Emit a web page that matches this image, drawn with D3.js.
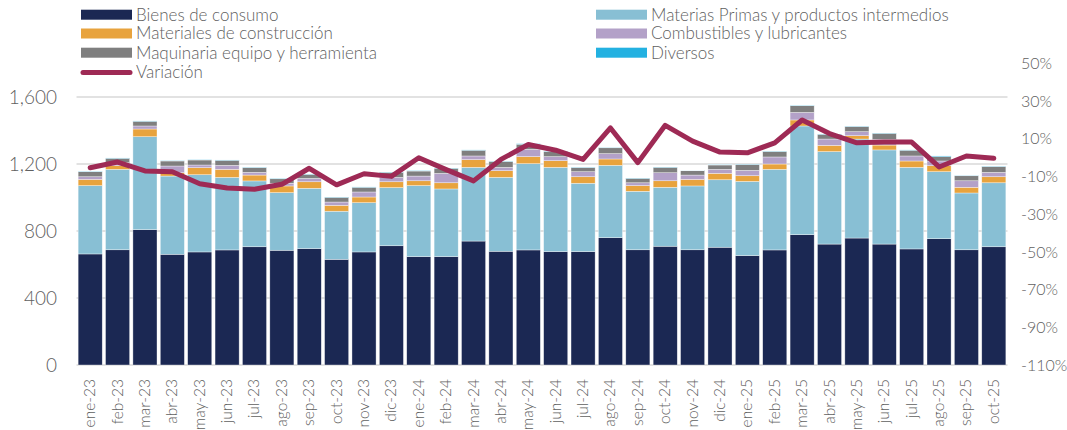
<!DOCTYPE html>
<html lang="es">
<head>
    <meta charset="UTF-8">
    <title>Importaciones por tipo de bien</title>
    <script src="https://d3js.org/d3.v7.min.js"></script>
    <style>
        body { margin: 0; background: #fff; font-family: Lato, "Open Sans", sans-serif; }
        text { fill: #5f5f5f; font-weight: 300; }
    </style>
</head>
<body>
<div id="chart"></div>
<script>
    // Months
    const months = ["ene-23","feb-23","mar-23","abr-23","may-23","jun-23","jul-23","ago-23","sep-23","oct-23","nov-23","dic-23",
        "ene-24","feb-24","mar-24","abr-24","may-24","jun-24","jul-24","ago-24","sep-24","oct-24","nov-24","dic-24",
        "ene-25","feb-25","mar-25","abr-25","may-25","jun-25","jul-25","ago-25","sep-25","oct-25"];

    // Series values
    const bienes = [663,688,808,661,675,687,706,685,695,631,675,712,647,647,740,679,687,677,677,760,688,709,688,703,653,687,778,722,758,722,693,754,688,706];
    const materias = [408,480,555,467,461,433,393,344,360,287,294,347,424,404,440,441,515,503,408,432,349,352,381,403,443,481,649,552,591,562,487,400,339,382];
    const construccion = [37,22,46,20,42,48,35,40,39,35,34,35,29,37,46,40,42,40,39,38,34,39,39,38,34,32,36,37,20,29,38,36,34,36];
    const combustibles = [16,18,18,40,16,24,16,16,20,20,30,26,28,56,22,20,44,24,30,32,17,48,26,24,32,42,45,38,24,34,30,28,39,26];
    const maquinaria = [30,26,28,30,30,30,28,27,24,28,28,30,30,30,34,34,30,30,24,35,26,32,26,26,34,32,40,28,30,36,34,26,30,34];
    const diversos = [3,2,2,2,2,2,2,3,2,2,2,2,2,2,2,2,3,2,2,2,2,2,2,2,2,2,3,2,2,2,2,4,2,2];
    const variacion = [-5.3,-2.3,-7.0,-7.4,-13.8,-16.1,-16.7,-14.1,-5.6,-14.4,-8.5,-9.9,0.0,-6.3,-12.3,-0.9,7.0,4.0,-0.9,15.8,-2.6,17.2,8.8,3.0,2.6,7.9,20.0,12.8,7.9,8.3,8.3,-4.9,0.9,-0.3];

    const leftTicks = [0, 400, 800, 1200, 1600];
    const rightTicks = [-110, -90, -70, -50, -30, -10, 10, 30, 50];

    const seriesNames = ["Bienes de consumo", "Materias Primas y productos intermedios", "Materiales de construcción",
        "Combustibles y lubricantes", "Maquinaria equipo y herramienta", "Diversos"];
    const seriesData = [bienes, materias, construccion, combustibles, maquinaria, diversos];
    const colors = ["#1b2853", "#88bfd4", "#e8a33d", "#b3a1c8", "#7f7f7f", "#23b1e1"];
    const lineColor = "#9e2a55";

    const width = 1067, height = 430;
    const svg = d3.select("#chart").append("svg")
        .attr("width", width)
        .attr("height", height);

    const plotTop = 63.5, plotBottom = 365, plotLeft = 76.5, plotRight = 1007.5;

    const x = d3.scaleBand().domain(months).range([plotLeft, plotRight]).paddingInner(0.12).paddingOuter(0.06);
    const y = d3.scaleLinear().domain([0, 1800]).range([plotBottom, plotTop]);
    const y2 = d3.scaleLinear().domain([-110, 50]).range([plotBottom, plotTop]);

    // Gridlines
    svg.append("g")
        .selectAll("line")
        .data(leftTicks)
        .enter().append("line")
        .attr("x1", plotLeft).attr("x2", plotRight)
        .attr("y1", d => y(d)).attr("y2", d => y(d))
        .attr("stroke", "#d9d9d9")
        .attr("stroke-width", 1.5);

    // Build stacked table
    const table = months.map((m, i) => {
        const row = { month: m };
        seriesNames.forEach((s, j) => row[s] = seriesData[j][i]);
        return row;
    });
    const stack = d3.stack().keys(seriesNames)(table);

    svg.append("g")
        .selectAll("g")
        .data(stack)
        .enter().append("g")
        .attr("fill", (d, i) => colors[i])
        .selectAll("rect")
        .data(d => d)
        .enter().append("rect")
        .attr("x", d => x(d.data.month))
        .attr("width", x.bandwidth())
        .attr("y", d => y(d[1]))
        .attr("height", d => y(d[0]) - y(d[1]))
        .attr("stroke", "#ffffff")
        .attr("stroke-opacity", 0.6)
        .attr("stroke-width", 0.6);

    // Variation line
    const line = d3.line()
        .x((d, i) => x(months[i]) + x.bandwidth() / 2)
        .y(d => y2(d));

    svg.append("path")
        .datum(variacion)
        .attr("d", line)
        .attr("fill", "none")
        .attr("stroke", lineColor)
        .attr("stroke-width", 5)
        .attr("stroke-linejoin", "round")
        .attr("stroke-linecap", "round");

    // Left axis
    const fmt = d3.format(",");
    svg.append("g")
        .selectAll("text")
        .data(leftTicks)
        .enter().append("text")
        .attr("x", 57)
        .attr("y", d => y(d))
        .attr("dy", "0.35em")
        .attr("text-anchor", "end")
        .style("font-size", "19px")
        .text(d => fmt(d));

    // Right axis
    svg.append("g")
        .selectAll("text")
        .data(rightTicks)
        .enter().append("text")
        .attr("x", 1021)
        .attr("y", d => y2(d))
        .attr("dy", "0.35em")
        .style("font-size", "16px")
        .text(d => d + "%");

    // X labels, rotated
    svg.append("g")
        .selectAll("text")
        .data(months)
        .enter().append("text")
        .attr("transform", d => `translate(${x(d) + x.bandwidth() / 2 + 5},379) rotate(-90)`)
        .attr("text-anchor", "end")
        .style("font-size", "15.5px")
        .text(d => d);

    // Legend
    const legendItems = [
        { name: seriesNames[0], color: colors[0], col: 0, row: 0 },
        { name: seriesNames[1], color: colors[1], col: 1, row: 0 },
        { name: seriesNames[2], color: colors[2], col: 0, row: 1 },
        { name: seriesNames[3], color: colors[3], col: 1, row: 1 },
        { name: seriesNames[4], color: colors[4], col: 0, row: 2 },
        { name: seriesNames[5], color: colors[5], col: 1, row: 2 },
        { name: "Variación", color: lineColor, col: 0, row: 3, isLine: true }
    ];
    const colX = [81, 596];
    const rowY = [14.7, 33.5, 52.7, 72.5];

    const legend = svg.append("g");
    legendItems.forEach(item => {
        const lx = colX[item.col], ly = rowY[item.row];
        if (item.isLine) {
            legend.append("line")
                .attr("x1", lx + 2).attr("x2", lx + 49)
                .attr("y1", ly).attr("y2", ly)
                .attr("stroke", item.color)
                .attr("stroke-width", 5)
                .attr("stroke-linecap", "round");
        } else {
            legend.append("rect")
                .attr("x", lx).attr("y", ly - 5)
                .attr("width", 51).attr("height", 10)
                .attr("fill", item.color);
        }
        legend.append("text")
            .attr("x", lx + 55)
            .attr("y", ly)
            .attr("dy", "0.35em")
            .style("font-size", "17px")
            .text(item.name);
    });
</script>
</body>
</html>
